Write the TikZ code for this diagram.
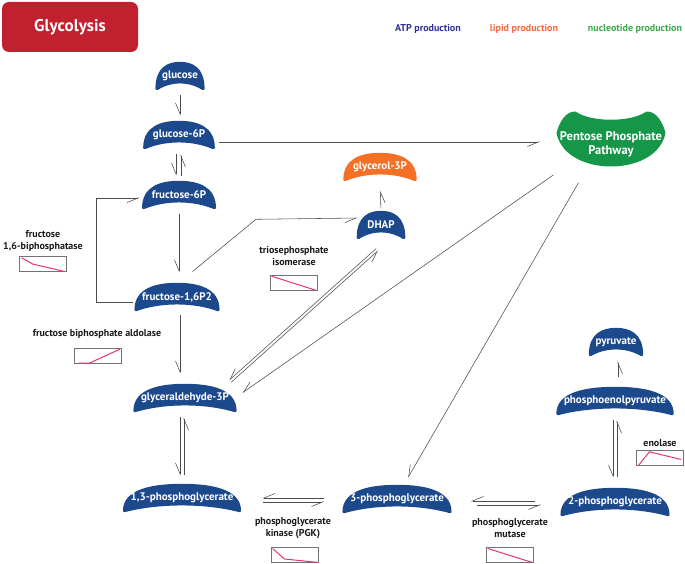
\documentclass[tikz,border=0pt]{standalone}
\usepackage{fontspec}
\setmainfont{PT Sans}
\usetikzlibrary{arrows.meta,backgrounds,calc}
\definecolor{atp}{RGB}{28,72,140}
\definecolor{lipid}{RGB}{243,112,36}
\definecolor{nuc}{RGB}{22,150,72}
\definecolor{titlered}{RGB}{193,32,47}
\definecolor{atptext}{RGB}{46,49,146}
\definecolor{lipidtext}{RGB}{242,107,58}
\definecolor{nuctext}{RGB}{58,170,74}
\definecolor{kinline}{RGB}{232,51,110}
\tikzset{metab/.style={text=white,font=\bfseries\fontsize{11}{12}\selectfont,inner xsep=8pt,inner ysep=0pt,minimum height=25pt},
	 enz/.style={font=\bfseries\fontsize{10}{12}\selectfont,align=center,text=black!90},
	 kinbox/.style={draw=black!55,line width=0.5pt,minimum width=47pt,minimum height=15pt,inner sep=0pt},
	 rxn/.style={draw=black!70,line width=0.55pt,shorten <=6pt,shorten >=7pt,-{Straight Barb[right,length=11pt,width=9pt]}},
	 legend/.style={font=\bfseries\fontsize{10}{12}\selectfont}
	 }
\begin{document}
\begin{tikzpicture}[x=1pt,y=1pt]
	\useasboundingbox (0,0) rectangle (685,-564);
	\node[fill=titlered,rounded corners=7pt,minimum width=136pt,minimum height=50pt,text=white,font=\bfseries\fontsize{17}{20}\selectfont] (title) at (70,-27) {Glycolysis};
	\node[legend,text=atptext] (lgatp) at (428,-29) {ATP production};
	\node[legend,text=lipidtext] (lglip) at (524,-29) {lipid production};
	\node[legend,text=nuctext] (lgnuc) at (635,-29) {nucleotide production};
	% metabolites
	\node[metab,inner xsep=5pt] (glc) at (180,-76) {glucose};
	\node[metab] (g6p) at (179,-135) {glucose-6P};
	\node[metab] (f6p) at (179,-195) {fructose-6P};
	\node[metab,inner xsep=6pt] (f16) at (177,-297) {fructose-1,6P2};
	\node[metab,inner xsep=6pt] (gap) at (185,-398) {glyceraldehyde-3P};
	\node[metab,inner xsep=6pt] (bpg) at (182,-498) {1,3-phosphoglycerate};
	\node[metab,inner xsep=6pt] (pg3) at (397,-499) {3-phosphoglycerate};
	\node[metab,inner xsep=6pt] (pg2) at (615,-502) {2-phosphoglycerate};
	\node[metab,inner xsep=6pt] (pep) at (615,-401) {phosphoenolpyruvate};
	\node[metab,inner xsep=5pt] (pyr) at (616,-342) {pyruvate};
	\node[metab,inner xsep=9pt] (dhap) at (381,-225) {DHAP};
	\node[metab] (g3p) at (380,-167) {glycerol-3P};
	\node[text=white,font=\bfseries\fontsize{12.5}{14}\selectfont,align=center,minimum width=110pt,minimum height=58pt,inner sep=0pt] (ppp) at (611,-144) {Pentose Phosphate\\Pathway};
	\begin{scope}[on background layer]
	\foreach \n/\c in {glc/atp,g6p/atp,f6p/atp,f16/atp,gap/atp,bpg/atp,pg3/atp,pg2/atp,pep/atp,pyr/atp,dhap/atp,g3p/lipid}
	  \filldraw[fill=\c,draw=\c,line width=3pt,line join=round] (\n.south west) .. controls ($(\n.north west)+(0,-5)$) and ($(\n.north west)!0.5!(\n.north)$) .. (\n.north) .. controls ($(\n.north east)!0.5!(\n.north)$) and ($(\n.north east)+(0,-5)$) .. (\n.south east) .. controls ($(\n.south east)!0.3!(\n.south west)+(0,9)$) and ($(\n.south west)!0.3!(\n.south east)+(0,9)$) .. (\n.south west) -- cycle;
	\filldraw[fill=nuc,draw=nuc,line width=3pt,line join=round,shift={(ppp.center)}] (-53,11) .. controls (-50,22) and (-44,31) .. (-36,31) .. controls (-20,20) and (20,20) .. (36,31) .. controls (44,31) and (50,22) .. (53,11) .. controls (48,-12) and (22,-21) .. (0,-21) .. controls (-22,-21) and (-48,-12) .. (-53,11) -- cycle;
	\end{scope}
	% enzymes
	\node[enz] (fbpase) at (43,-241) {fructose\\1,6-biphosphatase};
	\node[kinbox] (kfbpase) at (43,-264) {};
	\node[enz] (aldo) at (97,-334) {fructose biphosphate aldolase};
	\node[kinbox] (kaldo) at (98,-356) {};
	\node[enz] (tpi) at (294,-256) {triosephosphate\\isomerase};
	\node[kinbox] (ktpi) at (294,-283) {};
	\node[enz] (pgk) at (293,-528) {phosphoglycerate\\kinase (PGK)};
	\node[kinbox] (kpgk) at (295,-555) {};
	\node[enz] (pgm) at (510,-528) {phosphoglycerate\\mutase};
	\node[kinbox] (kpgm) at (510,-555) {};
	\node[enz] (eno) at (660,-443) {enolase};
	\node[kinbox] (keno) at (660,-458) {};
	\begin{scope}[kinline,line width=1pt,x=47pt,y=15pt]
	\draw[shift={(kfbpase.south west)}] (0.05,0.93) -- (0.29,0.51) -- (0.95,0.03);
	\draw[shift={(kaldo.south west)}] (0.09,0.05) -- (0.33,0.05) -- (0.97,0.97);
	\draw[shift={(ktpi.south west)}] (0.03,0.97) -- (0.97,0.03);
	\draw[shift={(kpgk.south west)}] (0.03,0.95) -- (0.28,0.25) -- (0.97,0.03);
	\draw[shift={(kpgm.south west)}] (0.03,0.95) -- (0.97,0.03);
	\draw[shift={(keno.south west)}] (0.05,0.03) -- (0.28,0.93) -- (0.95,0.42);
	\end{scope}
	% reactions
	\draw[rxn] (glc) -- (glc |- g6p.north);
	\draw[rxn] ([xshift=-3pt]g6p.south) -- ([xshift=-3pt]f6p.north);
	\draw[rxn] ([xshift=2pt]f6p.north) -- ([xshift=2pt]g6p.south);
	\draw[rxn,shorten >=16pt] ([yshift=-7pt]g6p.east) -- ([yshift=2pt]ppp.west);
	\draw[rxn,shorten >=12pt] (f6p.south) -- (f6p.south |- f16.north);
	\draw[rxn,shorten <=3pt,shorten >=4pt] ([yshift=-5pt]f16.west) -- ++(-40,0) |- ([yshift=-3pt]f6p.west);
	\draw[rxn,shorten <=20pt,shorten >=1pt] (f16.north) -- ++(79,65) -- ([yshift=7pt]dhap.west);
	\draw[rxn,shorten <=5pt,shorten >=12pt] ([xshift=3pt]f16.south) -- ([xshift=3pt]f16.south |- gap.north);
	\draw[rxn,shorten <=4pt,shorten >=11pt] (dhap.north) -- (g3p.south);
	\draw[rxn,shorten <=0pt,shorten >=0pt] ($(dhap.south)+(-5,-11)$) -- ($(gap.north east)+(-6,5)$);
	\draw[rxn,shorten <=0pt,shorten >=0pt] ($(gap.north east)+(-4,3)$) -- ($(dhap.south)+(-3,-13)$);
	\draw[rxn,shorten <=3pt,shorten >=9pt] (ppp.south west) -- (gap.east);
	\draw[rxn,shorten <=11pt,shorten >=10pt] ([xshift=-27pt]ppp.south) -- ([xshift=6pt]pg3.north);
	\draw[rxn,shorten >=10pt] ([xshift=-5pt]gap.south) -- ([xshift=-5pt]gap.south |- bpg.north);
	\draw[rxn,shorten <=10pt] ([xshift=-1pt]gap.south |- bpg.north) -- ([xshift=-1pt]gap.south);
	\draw[rxn,shorten <=20pt,shorten >=23pt] ([yshift=1pt]pg3.west) -- ([yshift=1pt]pg3.west -| bpg.east);
	\draw[rxn,shorten <=23pt,shorten >=20pt] ([yshift=-3pt]pg3.west -| bpg.east) -- ([yshift=-3pt]pg3.west);
	\draw[rxn,shorten <=27pt,shorten >=21pt] ([yshift=1pt]pg2.west) -- ([yshift=1pt]pg2.west -| pg3.east);
	\draw[rxn,shorten <=27pt,shorten >=21pt] ([yshift=-3pt]pg2.west -| pg3.east) -- ([yshift=-3pt]pg2.west);
	\draw[rxn,shorten >=12pt] ([xshift=-2pt]pep.south) -- ([xshift=-2pt]pep.south |- pg2.north);
	\draw[rxn,shorten <=12pt] ([xshift=2pt]pep.south |- pg2.north) -- ([xshift=2pt]pep.south);
	\draw[rxn,shorten <=11pt] ([xshift=3pt]pep.north) -- ([xshift=3pt]pep.north |- pyr.south);
\end{tikzpicture}
\end{document}
